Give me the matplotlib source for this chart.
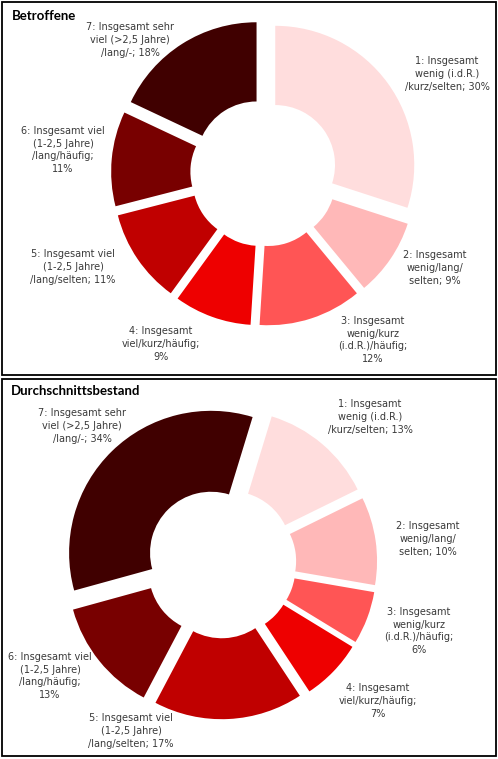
import matplotlib.pyplot as plt
from matplotlib.patches import Rectangle

W, H = 498, 759

categories = [
    "1: Insgesamt\nwenig (i.d.R.)\n/kurz/selten",
    "2: Insgesamt\nwenig/lang/\nselten",
    "3: Insgesamt\nwenig/kurz\n(i.d.R.)/häufig",
    "4: Insgesamt\nviel/kurz/häufig",
    "5: Insgesamt viel\n(1-2,5 Jahre)\n/lang/selten",
    "6: Insgesamt viel\n(1-2,5 Jahre)\n/lang/häufig",
    "7: Insgesamt sehr\nviel (>2,5 Jahre)\n/lang/-",
]
betroffene = [30, 9, 12, 9, 11, 11, 18]
bestand = [13, 10, 6, 7, 17, 13, 34]
titles = ["Betroffene", "Durchschnittsbestand"]

colors = ["#FFDDDD", "#FFB8B8", "#FF5555", "#EE0000", "#C00000", "#780000", "#400000"]
seps = ["; ", "; ", ";\n", ";\n", "; ", ";\n", "; "]

plt.rcParams['font.family'] = ['DejaVu Sans']

fig = plt.figure(figsize=(W / 100, H / 100), dpi=100)
ax = fig.add_axes([0, 0, 1, 1])


def Y(y):
    # image pixel row -> data y
    return H - y


# panel layout (image pixels)
panels = [
    dict(values=betroffene, title=titles[0], box=(2, 2, 496, 375), title_xy=(12, 16),
         center=(264, 173), radius=139, start=90,
         label_xy=[(447, 74), (435, 268), (373, 340), (161, 344), (73, 267), (63, 150), (130, 40)]),
    dict(values=bestand, title=titles[1], box=(2, 379, 496, 756), title_xy=(11, 391),
         center=(221, 563), radius=142, start=73,
         label_xy=[(370, 417), (428, 539), (419, 631), (378, 701), (131, 731), (50, 676), (82, 426)]),
]

for p in panels:
    x0, y0, x1, y1 = p['box']
    ax.add_patch(Rectangle((x0, Y(y1)), x1 - x0, y1 - y0, fill=False,
                           edgecolor='black', linewidth=1.3))
    ax.text(p['title_xy'][0], Y(p['title_xy'][1]), p['title'], fontsize=9.5,
            fontweight='bold', ha='left', va='center', family=['Lato', 'DejaVu Sans'])

    r = p['radius']
    cx, cy = p['center']
    ax.pie(p['values'], colors=colors, startangle=p['start'], counterclock=False,
           explode=[0.1 * r] * len(p['values']), radius=r, center=(cx, Y(cy)),
           wedgeprops=dict(width=r * 0.57, linewidth=0), frame=True)

    total = sum(p['values'])
    for cat, v, sep, (lx, ly) in zip(categories, p['values'], seps, p['label_xy']):
        pct = round(100 * v / total)
        ax.text(lx, Y(ly), f"{cat}{sep}{pct}%", fontsize=7.0, color='#3a3a3a',
                ha='center', va='center', linespacing=1.35)

ax.set_xlim(0, W)
ax.set_ylim(0, H)
ax.set_aspect('equal')
ax.axis('off')

fig.savefig('out.png', dpi=100)
